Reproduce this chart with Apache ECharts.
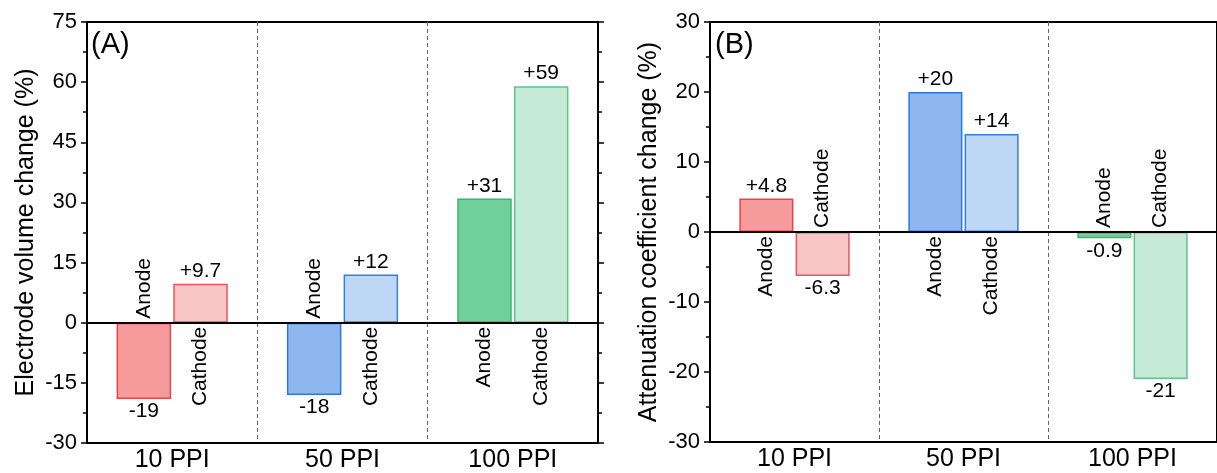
<!DOCTYPE html>
<html>
<head>
<meta charset="utf-8">
<script src="https://cdn.jsdelivr.net/npm/echarts@6/dist/echarts.min.js"></script>
<style>
  html, body { margin: 0; padding: 0; background: #fff; }
  #chart { width: 1217px; height: 473px; }
</style>
</head>
<body>
<div id="chart"></div>
<script>
// Pore densities of the electrodes
const categories = ['10 PPI', '50 PPI', '100 PPI'];
const kinds = ['Anode', 'Cathode'];

// (A) electrode volume change, %
const volumeAnode = [-19, -18, 31];
const volumeCathode = [9.7, 12, 59];

// (B) attenuation coefficient change, %
const attenAnode = [4.8, 20, -0.9];
const attenCathode = [-6.3, 14, -21];

// y-axis ticks
const volumeTicks = { min: -30, max: 75, interval: 15 };
const attenTicks = { min: -30, max: 30, interval: 10 };

const FONT = '"Liberation Sans", Arial, Helvetica, sans-serif';

// fill / border colours for each pore density
const anodeFill = ['#f69b9b', '#8eb7f0', '#70d09a'];
const cathodeFill = ['#f9c6c6', '#bdd7f5', '#c5ebd6'];
const anodeEdge = ['#ee4247', '#2a79e2', '#3cb570'];
const cathodeEdge = ['#ef5357', '#3080e3', '#5cc58b'];

const BAR_FRAC = 0.32;   // bar width as fraction of category band
const GAP_FRAC = 0.04;   // gap between the pair, fraction of bar width

function fmt(v) {
  const s = String(Number(v.toPrecision(2)));
  return v > 0 ? '+' + s : s;
}

function barItems(values, fills, edges) {
  return values.map((v, i) => ({
    value: v,
    itemStyle: { color: fills[i], borderColor: edges[i], borderWidth: 1.5 }
  }));
}

function nameItems(anode, cathode) {
  const out = [];
  anode.forEach((v, i) => out.push([i, 0, v]));
  cathode.forEach((v, i) => out.push([i, 1, v]));
  return out;
}

// "Anode"/"Cathode" written vertically on the side of zero opposite to the bar
function renderName(params, api) {
  const cat = api.value(0);
  const kind = api.value(1);
  const v = api.value(2);
  const p = api.coord([cat, 0]);
  const band = api.size([1, 0])[0];
  const bw = band * BAR_FRAC;
  const gap = bw * GAP_FRAC;
  const x = p[0] + (kind === 0 ? -1 : 1) * (bw + gap) / 2;
  const up = v < 0;
  return {
    type: 'text',
    x: x,
    y: p[1] + (up ? -4 : 4),
    rotation: Math.PI / 2,
    z2: 10,
    style: {
      text: kinds[kind],
      x: 0, y: 0,
      align: up ? 'left' : 'right',
      verticalAlign: 'middle',
      fill: '#000',
      font: '21px ' + FONT
    }
  };
}

function gridAxes(gi, ticks, title) {
  const xAxis = {
    type: 'category',
    gridIndex: gi,
    data: categories,
    axisLine: { show: true, onZero: false, lineStyle: { color: '#000', width: 2 } },
    axisTick: { show: false },
    axisLabel: { color: '#000', fontSize: 25, fontFamily: FONT, margin: 5 },
    splitLine: { show: true, interval: 0, lineStyle: { color: '#666', width: 1, type: [4, 3] } }
  };
  const common = {
    type: 'value',
    gridIndex: gi,
    min: ticks.min, max: ticks.max, interval: ticks.interval,
    axisLine: { show: true, onZero: false, lineStyle: { color: '#000', width: 2 } },
    axisTick: { show: true, inside: false, length: 6, lineStyle: { color: '#000', width: 1.5 } },
    minorTick: { show: true, splitNumber: 2, length: 4, lineStyle: { color: '#000', width: 1.5 } },
    splitLine: { show: false }
  };
  const yLeft = Object.assign({}, common, {
    position: 'left',
    name: title,
    nameLocation: 'middle',
    nameRotate: 90,
    nameGap: 48,
    nameTextStyle: { color: '#000', fontSize: 25, fontFamily: FONT },
    axisLabel: { color: '#000', fontSize: 22, fontFamily: FONT, margin: 10 }
  });
  const yRight = Object.assign({}, common, {
    position: 'right',
    axisLabel: { show: false }
  });
  return { xAxis, yLeft, yRight };
}

const A = gridAxes(0, volumeTicks, 'Electrode volume change (%)');
const B = gridAxes(1, attenTicks, 'Attenuation coefficient change (%)');

function barSeries(name, xi, yi, data) {
  return {
    type: 'bar',
    name: name,
    xAxisIndex: xi,
    yAxisIndex: yi,
    data: data,
    barWidth: (BAR_FRAC * 100) + '%',
    barGap: (GAP_FRAC * 100) + '%',
    label: {
      show: true,
      position: 'outside',
      distance: 2,
      color: '#000',
      fontSize: 21,
      fontFamily: FONT,
      formatter: p => fmt(p.value)
    }
  };
}

function zeroLine() {
  return {
    silent: true,
    symbol: 'none',
    label: { show: false },
    lineStyle: { color: '#000', width: 2, type: 'solid' },
    data: [{ yAxis: 0 }],
    z: 20
  };
}

const chart = echarts.init(document.getElementById('chart'), null, { renderer: 'canvas' });

const sA1 = barSeries('Anode', 0, 0, barItems(volumeAnode, anodeFill, anodeEdge));
sA1.markLine = zeroLine();
const sA2 = barSeries('Cathode', 0, 0, barItems(volumeCathode, cathodeFill, cathodeEdge));
const sB1 = barSeries('Anode', 1, 2, barItems(attenAnode, anodeFill, anodeEdge));
sB1.markLine = zeroLine();
const sB2 = barSeries('Cathode', 1, 2, barItems(attenCathode, cathodeFill, cathodeEdge));

chart.setOption({
  animation: false,
  backgroundColor: '#fff',
  grid: [
    { left: 87, top: 22, width: 511, height: 421, show: true, borderColor: '#000', borderWidth: 2, backgroundColor: 'transparent' },
    { left: 710, top: 22, width: 512, height: 420, show: true, borderColor: '#000', borderWidth: 2, backgroundColor: 'transparent' }
  ],
  xAxis: [A.xAxis, B.xAxis],
  yAxis: [A.yLeft, A.yRight, B.yLeft, B.yRight],
  graphic: [
    { type: 'text', left: 91, top: 30, style: { text: '(A)', font: '29px ' + FONT, fill: '#000' } },
    { type: 'text', left: 715, top: 30, style: { text: '(B)', font: '29px ' + FONT, fill: '#000' } }
  ],
  series: [
    sA1, sA2, sB1, sB2,
    {
      type: 'custom',
      xAxisIndex: 0, yAxisIndex: 0,
      data: nameItems(volumeAnode, volumeCathode),
      encode: { x: 0, y: 2 },
      renderItem: renderName,
      silent: true,
      z: 10
    },
    {
      type: 'custom',
      xAxisIndex: 1, yAxisIndex: 2,
      data: nameItems(attenAnode, attenCathode),
      encode: { x: 0, y: 2 },
      renderItem: renderName,
      silent: true,
      z: 10
    }
  ]
});
</script>
</body>
</html>
